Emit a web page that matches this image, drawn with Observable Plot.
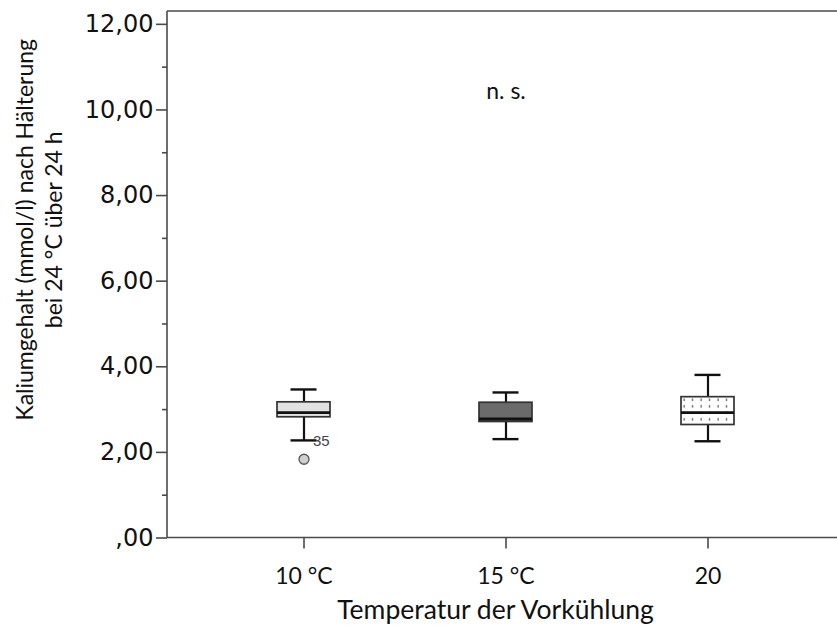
<!DOCTYPE html>
<html>
<head>
<meta charset="utf-8">
<script src="https://cdn.jsdelivr.net/npm/d3@7"></script>
<script src="https://cdn.jsdelivr.net/npm/@observablehq/plot@0.6"></script>
<style>
  html, body { margin: 0; padding: 0; background: #fff; }
  #chart svg { display: block; }
</style>
</head>
<body>
<div id="chart"></div>
<script>
// ---- data ----
const categories = ["10 °C", "15 °C", "20"];
const whiskerLow  = [2.28, 2.31, 2.26];
const q1          = [2.82, 2.71, 2.64];
const median      = [2.93, 2.78, 2.93];
const q3          = [3.17, 3.16, 3.29];
const whiskerHigh = [3.47, 3.40, 3.81];
const outlierCats   = ["10 °C"];
const outlierValues = [1.84];
const outlierLabels = ["35"];
const yTicks      = [0, 2, 4, 6, 8, 10, 12];
const yTickLabels = [",00", "2,00", "4,00", "6,00", "8,00", "10,00", "12,00"];
const yMinorTicks = [1, 3, 5, 7, 9, 11];
const annotationCat = ["15 °C"];
const annotationValue = [10.42];
const annotationText = ["n. s."];
const xTitle = "Temperatur der Vorkühlung";
const yTitle = "Kaliumgehalt (mmol/l) nach Hälterung\nbei 24 °C über 24 h";

// ---- tables ----
const boxes = categories.map((c, i) => ({
  cat: c, lo: whiskerLow[i], q1: q1[i], med: median[i], q3: q3[i], hi: whiskerHigh[i]
}));
const outliers = outlierCats.map((c, i) => ({cat: c, value: outlierValues[i], label: outlierLabels[i]}));
const annotations = annotationCat.map((c, i) => ({cat: c, value: annotationValue[i], text: annotationText[i]}));
const yLabelMap = new Map(yTicks.map((t, i) => [t, yTickLabels[i]]));

const axisColor = "#4a4a4a";
const titleFont = "Lato, 'Open Sans', sans-serif";

// pattern definition for dotted box
const defsMark = () => {
  const g = d3.create("svg:g");
  const p = g.append("defs").append("pattern")
    .attr("id", "dots").attr("patternUnits", "userSpaceOnUse")
    .attr("width", 8.5).attr("height", 6.5);
  p.append("rect").attr("width", 8.5).attr("height", 6.5).attr("fill", "#fff");
  p.append("rect").attr("x", 3.5).attr("y", 2).attr("width", 1.2).attr("height", 2.6).attr("fill", "#555");
  return g.node();
};

// frame lines (left, top, bottom) drawn from the plot dimensions
const frameLines = (index, scales, values, dims) => {
  const g = d3.create("svg:g").attr("stroke", axisColor).attr("stroke-width", 1.6).attr("fill", "none");
  const yTop = dims.marginTop, yBot = dims.height - dims.marginBottom;
  const xL = dims.marginLeft, xR = dims.width - dims.marginRight;
  g.append("line").attr("x1", xL).attr("x2", xL).attr("y1", yTop).attr("y2", yBot);
  g.append("line").attr("x1", xL).attr("x2", xR).attr("y1", yTop).attr("y2", yTop);
  g.append("line").attr("x1", xL).attr("x2", xR).attr("y1", yBot).attr("y2", yBot);
  return g.node();
};

const chart = Plot.plot({
  width: 837,
  height: 633,
  marginLeft: 167,
  marginRight: 0,
  marginTop: 11,
  marginBottom: 95.5,
  x: {domain: categories, paddingInner: 0.739, paddingOuter: 0.52, align: 0.517},
  y: {domain: [0, 12.3]},
  color: {domain: categories, range: ["#e1e1e1", "#6b6b6b", "url(#dots)"]},
  marks: [
    defsMark,
    // whiskers
    Plot.ruleX(boxes, {x: "cat", y1: "lo", y2: "q1", stroke: "#111", strokeWidth: 2.2}),
    Plot.ruleX(boxes, {x: "cat", y1: "q3", y2: "hi", stroke: "#111", strokeWidth: 2.2}),
    Plot.tickY(boxes, {x: "cat", y: "lo", insetLeft: 13.5, insetRight: 13.5, stroke: "#111", strokeWidth: 2.4}),
    Plot.tickY(boxes, {x: "cat", y: "hi", insetLeft: 13.5, insetRight: 13.5, stroke: "#111", strokeWidth: 2.4}),
    // boxes
    Plot.barY(boxes, {x: "cat", y1: "q1", y2: "q3", fill: "cat", stroke: "#333", strokeWidth: 1.7}),
    Plot.tickY(boxes, {x: "cat", y: "med", stroke: "#111", strokeWidth: 2.8}),
    // outliers
    Plot.dot(outliers, {x: "cat", y: "value", r: 5, fill: "#cfcfcf", stroke: "#555", strokeWidth: 1.3}),
    Plot.text(outliers, {x: "cat", y: "value", text: "label", dx: 9, dy: -18, textAnchor: "start",
      fontSize: 15, fontFamily: "'Liberation Sans', Arial, sans-serif", fill: "#444"}),
    // annotation
    Plot.text(annotations, {x: "cat", y: "value", text: "text", fontSize: 23, fontFamily: titleFont, fill: "#111"}),
    // axes
    frameLines,
    Plot.axisY({ticks: yTicks, tickFormat: d => yLabelMap.get(d), tickSize: 11, tickPadding: 3,
      stroke: axisColor, strokeWidth: 1.6, fontSize: 24, fontFamily: "'DejaVu Sans', Verdana, sans-serif",
      fill: "#111", label: null}),
    Plot.axisY({ticks: yMinorTicks, tickFormat: () => "", tickSize: 5, stroke: axisColor, strokeWidth: 1.6, label: null}),
    Plot.axisX({tickSize: 11, tickPadding: 19, stroke: axisColor, strokeWidth: 1.6, fontSize: 23,
      fontFamily: titleFont, fill: "#111", label: null}),
    // titles
    Plot.text([xTitle], {frameAnchor: "bottom", dx: -7, dy: 81, fontSize: 26.5, fontFamily: titleFont, fill: "#111"}),
    Plot.text([yTitle], {frameAnchor: "left", textAnchor: "middle", rotate: -90, dx: -129, dy: -45, lineHeight: 1.25,
      fontSize: 23, fontFamily: titleFont, fill: "#111"})
  ]
});
document.getElementById("chart").appendChild(chart);
</script>
</body>
</html>
